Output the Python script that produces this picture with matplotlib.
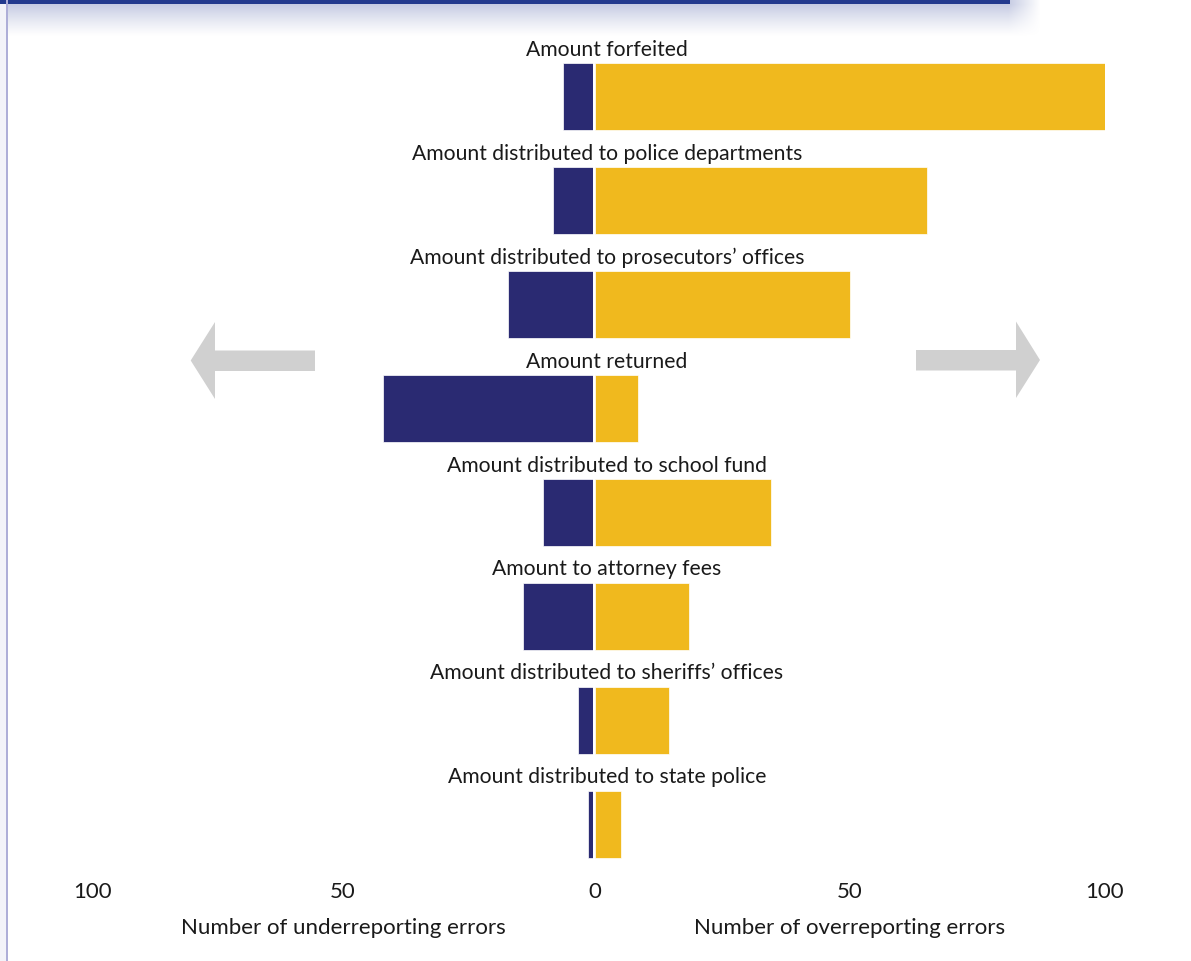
import numpy as np
import matplotlib
matplotlib.use("Agg")
import matplotlib.pyplot as plt
from matplotlib.patches import Polygon, Rectangle
from matplotlib.transforms import blended_transform_factory

categories = [
    "Amount forfeited",
    "Amount distributed to police departments",
    "Amount distributed to prosecutors\u2019 offices",
    "Amount returned",
    "Amount distributed to school fund",
    "Amount to attorney fees",
    "Amount distributed to sheriffs\u2019 offices",
    "Amount distributed to state police",
]
under_errors = [6, 8, 17, 42, 10, 14, 3, 1]
over_errors = [100, 65, 50, 8.5, 34.5, 18.5, 14.5, 5]
left_ticks = [100, 50]
right_ticks = [0, 50, 100]
left_title = "Number of underreporting errors"
right_title = "Number of overreporting errors"

BLUE = "#2a2a72"
YELLOW = "#f0b91e"
GREY = "#d0d0d0"
TXT = "#1a1a1a"

plt.rcParams['font.family'] = ['Lato', 'DejaVu Sans']

W, H = 1191, 962
fig = plt.figure(figsize=(W / 100, H / 100), dpi=100)


def fx(px):
    return px / W


def fy(py):
    return 1 - py / H


# decoration: top band with shadow, left strip
deco = fig.add_axes([0, 0, 1, 1], zorder=-5)
deco.set_xlim(0, W)
deco.set_ylim(H, 0)
deco.axis("off")
ys = np.arange(0, 40)
xs = np.arange(0, 1060)
shade = np.clip(1 - (ys - 5) / 32.0, 0, 1)[:, None] ** 1.2
edge = np.clip((1040 - xs) / 32.0, 0, 1)[None, :]
alpha = shade * edge * 0.6
img = np.zeros((len(ys), len(xs), 4))
img[..., 0] = 0xa0 / 255
img[..., 1] = 0xaa / 255
img[..., 2] = 0xd0 / 255
img[..., 3] = alpha
deco.imshow(img, extent=[0, 1060, 40, 0], aspect="auto", interpolation="bilinear", zorder=1)
deco.add_patch(Rectangle((0, 0), 1010, 5, color="#233a8e", zorder=3, lw=0))
deco.add_patch(Rectangle((0, 0), 6, H, color="#f3f3f9", zorder=2, lw=0))
deco.add_patch(Rectangle((6, 0), 2, H, color="#aeaed8", zorder=3, lw=0))

# arrows
left_arrow = [(190.7, 361.5), (215, 323), (215, 351.5), (315, 351.5), (315, 372),
              (215, 372), (215, 400)]
right_arrow = [(1040, 361), (1016, 322.5), (1016, 351), (916, 351), (916, 371.5),
               (1016, 371.5), (1016, 399)]
for pts in (left_arrow, right_arrow):
    deco.add_patch(Polygon(pts, closed=True, color=GREY, lw=0, zorder=2))

# plot axes
y_top_px, y_bot_px = 40, 870
first_c, step = 97.0, 104.0
ylim = ((y_bot_px - first_c) / step, (y_top_px - first_c) / step)
bar_h = 67 / step

axL = fig.add_axes([fx(93), fy(y_bot_px), fx(593 - 93), (y_bot_px - y_top_px) / H])
axR = fig.add_axes([fx(595), fy(y_bot_px), fx(1105 - 595), (y_bot_px - y_top_px) / H])
pos = np.arange(len(categories))

axL.barh(pos, under_errors, height=bar_h, color=BLUE, edgecolor="white", linewidth=0.5)
axR.barh(pos, over_errors, height=bar_h, color=YELLOW, edgecolor="white", linewidth=0.5)
axL.set_xlim(100, 0)
axR.set_xlim(0, 100)
for ax, ticks, title in ((axL, left_ticks, left_title), (axR, right_ticks, right_title)):
    ax.set_ylim(*ylim)
    ax.set_xticks(ticks)
    ax.set_xticklabels([str(t) for t in ticks], fontsize=16, color=TXT)
    ax.tick_params(axis="x", length=0, pad=9)
    ax.set_yticks([])
    for s in ax.spines.values():
        s.set_visible(False)
    ax.patch.set_alpha(0)
    ax.set_xlabel(title, fontsize=16, color=TXT, labelpad=11)

trans = blended_transform_factory(fig.transFigure, axR.transData)
for i, c in enumerate(categories):
    fig.text(fx(607), i - bar_h / 2 - 14 / step, c, transform=trans, ha="center",
             va="center", fontsize=15.2, color=TXT)

fig.savefig("out.png", dpi=100)
